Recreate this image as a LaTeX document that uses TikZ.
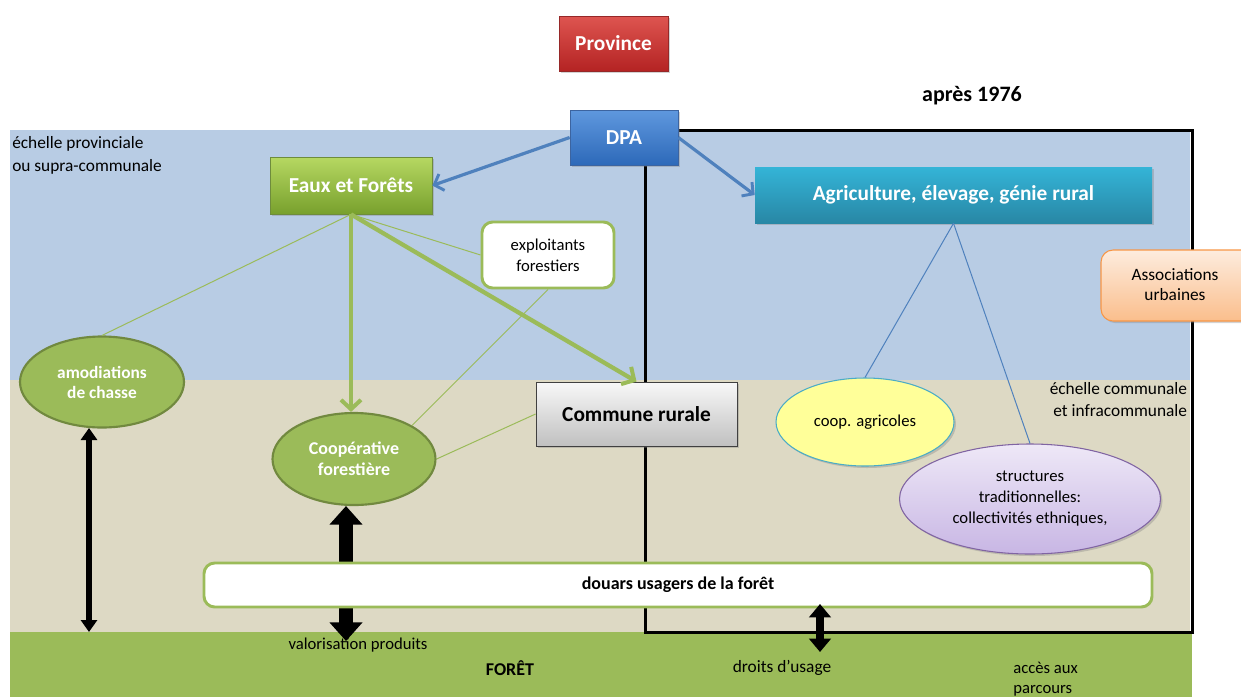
\documentclass[tikz,border=0pt]{standalone}
\usepackage{fontspec}
\setmainfont{Carlito}
\usetikzlibrary{arrows.meta,shapes.geometric,shadows}
\definecolor{bluebg}{RGB}{184,204,228}
\definecolor{beige}{RGB}{221,217,196}
\definecolor{fgreen}{RGB}{155,187,89}
\definecolor{dgreen}{RGB}{113,137,63}
\definecolor{lblue}{RGB}{79,129,189}
\definecolor{provtop}{RGB}{222,85,80}
\definecolor{provbot}{RGB}{180,35,35}
\definecolor{provbd}{RGB}{150,40,40}
\definecolor{dpatop}{RGB}{95,152,222}
\definecolor{dpabot}{RGB}{45,105,185}
\definecolor{dpabd}{RGB}{60,100,160}
\definecolor{eautop}{RGB}{182,216,98}
\definecolor{eaubot}{RGB}{120,160,45}
\definecolor{eaubd}{RGB}{110,140,60}
\definecolor{agritop}{RGB}{52,180,215}
\definecolor{agribot}{RGB}{40,135,165}
\definecolor{comtop}{RGB}{248,248,248}
\definecolor{combot}{RGB}{192,192,192}
\definecolor{assoctop}{RGB}{253,236,222}
\definecolor{assocbot}{RGB}{250,190,140}
\definecolor{assocbd}{RGB}{247,150,70}
\definecolor{structop}{RGB}{238,232,247}
\definecolor{strucbot}{RGB}{200,182,228}
\definecolor{strucbd}{RGB}{128,100,162}
\definecolor{yellowfill}{RGB}{255,255,153}
\definecolor{tealbd}{RGB}{75,172,198}
\tikzset{
  base/.style={inner sep=0pt, align=center},
  shad/.style={drop shadow={shadow xshift=1.5pt,shadow yshift=-1.5pt,opacity=0.35}},
  bx/.style={base, rectangle, shad, text=white, font=\bfseries\fontsize{16}{19}\selectfont},
  redbox/.style={bx, top color=provtop, bottom color=provbot, draw=provbd, line width=0.5pt},
  bluebox/.style={bx, top color=dpatop, bottom color=dpabot, draw=dpabd, line width=0.5pt},
  greenbox/.style={bx, top color=eautop, bottom color=eaubot, draw=eaubd, line width=0.5pt},
  tealbox/.style={bx, top color=agritop, bottom color=agribot},
  graybox/.style={bx, text=black, top color=comtop, bottom color=combot, draw=black!75, line width=0.6pt},
  whitebox/.style={base, rectangle, rounded corners=8pt, fill=white, draw=fgreen, line width=2.2pt},
  assocbox/.style={base, rectangle, rounded corners=9pt, top color=assoctop, bottom color=assocbot, draw=assocbd, line width=0.8pt, shad},
  gell/.style={base, ellipse, fill=fgreen, draw=dgreen, line width=1.6pt, text=white, font=\bfseries\fontsize{13}{15}\selectfont},
  yell/.style={base, ellipse, fill=yellowfill, draw=tealbd, line width=0.8pt, shad, font=\fontsize{12.5}{15}\selectfont},
  pell/.style={base, ellipse, top color=structop, bottom color=strucbot, draw=strucbd, line width=0.8pt, shad, font=\fontsize{12.5}{15.75}\selectfont},
  reg/.style={inner sep=0pt, font=\fontsize{12.5}{15}\selectfont},
  thing/.style={draw=fgreen, line width=0.75pt},
  thinb/.style={draw=lblue, line width=0.75pt},
  garrow/.style={draw=fgreen, line width=3.2pt, -{Straight Barb[length=7pt,width=15pt,line width=3pt]}},
  barrow/.style={draw=lblue, line width=2.4pt, -{Straight Barb[length=6pt,width=13pt,line width=2.2pt]}},
}
\begin{document}
\begin{tikzpicture}[x=0.75pt,y=-0.75pt]
\useasboundingbox (0,0) rectangle (1241,697);
% backgrounds
\fill[bluebg] (10,130) rectangle (1190,380);
\fill[beige] (10,380) rectangle (1190,632);
\fill[fgreen] (10,632) rectangle (1192,697);
\draw[black, line width=2.25pt] (645,130) rectangle (1192,632);
% scale labels
\node[reg, anchor=north west, align=left, font=\fontsize{13}{17.25}\selectfont] (echprov) at (12,136) {échelle provinciale\\ou supra-communale};
\node[reg, anchor=north east, align=right, fill=beige, inner sep=2pt, font=\fontsize{13}{16.5}\selectfont] (echcom) at (1190,380) {échelle communale\\ et infracommunale};
\node[font=\bfseries\fontsize{16.5}{19}\selectfont, inner sep=0pt] (apres) at (972,96) {après 1976};
% main nodes
\node[redbox, minimum width=81.75pt, minimum height=41.25pt] (prov) at (613.5,43.5) {Province};
\node[bluebox, minimum width=81pt, minimum height=41.25pt] (dpa) at (624,137.5) {DPA};
\node[greenbox, minimum width=121.5pt, minimum height=42.75pt] (eaux) at (351,185.5) {Eaux et Forêts};
\node[tealbox, minimum width=297.75pt, minimum height=42pt] (agri) at (953.5,195) {Agriculture, élevage, génie rural};
\node[whitebox, minimum width=99pt, minimum height=49.5pt, font=\fontsize{12.5}{15.75}\selectfont] (explo) at (548,255) {exploitants\\forestiers};
\node[assocbox, minimum width=115.5pt, minimum height=53.25pt] (assocbox) at (1178,285.5) {};
\node[reg, align=center, font=\fontsize{13}{15}\selectfont] (assoc) at (1175,285) {Associations\\urbaines};
\node[gell, minimum width=123pt, minimum height=68.25pt] (amod) at (102,382) {amodiations\\de chasse};
\node[gell, minimum width=122.25pt, minimum height=69pt, font=\bfseries\fontsize{13.5}{16}\selectfont] (coopf) at (354,459) {Coopérative\\forestière};
\node[graybox, minimum width=150.75pt, minimum height=48pt] (commune) at (636.5,414) {Commune rurale};
\node[yell, minimum width=133.5pt, minimum height=66pt] (coopa) at (865,422) {coop. agricoles};
\node[pell, minimum width=195.75pt, minimum height=82.5pt] (struct) at (1030,499) {structures\\traditionnelles:\\collectivités ethniques,};
% coordinates for arrow ends
\coordinate (amodtop) at (89,428);
\coordinate (amodbot) at (89,632);
\coordinate (cooptop) at (346,506);
\coordinate (coopbot) at (346,641);
\coordinate (droitstop) at (820,604);
\coordinate (droitsbot) at (820,652);
% black double arrow behind douars box
\draw[line width=10.5pt, {Triangle[width=24pt,length=14pt]}-{Triangle[width=24pt,length=14pt]}] (cooptop) -- (coopbot);
\node[whitebox, minimum width=711pt, minimum height=33pt, font=\bfseries\fontsize{13.5}{16}\selectfont] (douars) at (678,585) {douars usagers de la forêt};
\draw[line width=4.5pt, {Triangle[width=12pt,length=9pt]}-{Triangle[width=12pt,length=9pt]}] (amodtop) -- (amodbot);
\draw[line width=5.5pt, {Triangle[width=16pt,length=10pt]}-{Triangle[width=16pt,length=10pt]}] (droitstop) -- (droitsbot);
% forest band labels
\node[reg] (valor) at (358,645) {valorisation produits};
\node[reg, font=\bfseries\fontsize{13.5}{16}\selectfont] (foret) at (510,668) {FORÊT};
\node[reg, font=\fontsize{13}{15}\selectfont] (droits) at (782,668) {droits d'usage};
\node[reg, anchor=south west, align=left, font=\fontsize{12.5}{15}\selectfont] (acces) at (1013,696) {accès aux\\parcours};
% connectors
\draw[barrow] (dpa.west) -- (eaux.east);
\draw[barrow] (dpa.east) -- (agri.west);
\draw[thing] (eaux.south) -- (amod.north);
\draw[thing] (eaux.south) -- (explo.west);
\draw[thing] (explo.south) -- (coopf.30);
\draw[thing] (commune.west) -- (coopf.east);
\draw[garrow] (eaux.south) -- (coopf.north -| eaux.south);
\draw[garrow] (eaux.south) -- (commune.north);
\draw[thinb] (agri.south) -- (coopa.north);
\draw[thinb] (agri.south) -- (struct.north);
\end{tikzpicture}
\end{document}
